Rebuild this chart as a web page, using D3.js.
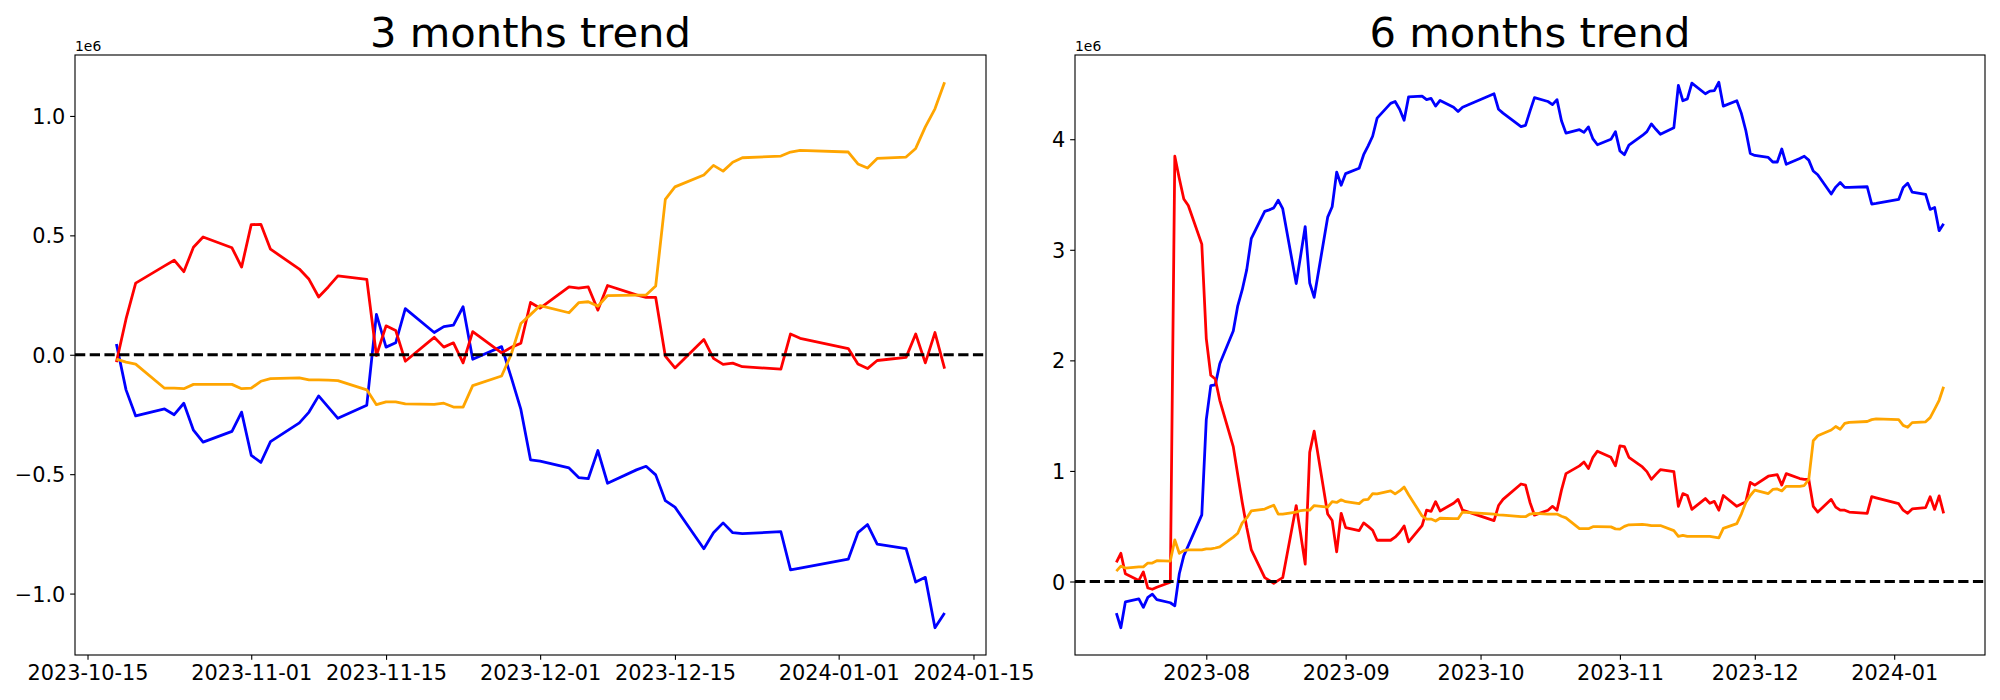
<!DOCTYPE html>
<html><head><meta charset="utf-8">
<script src="https://cdn.jsdelivr.net/npm/d3@7"></script>
<style>
body{margin:0;background:#fff}
svg{display:block}
text{font-family:"DejaVu Sans",sans-serif;fill:#000}
</style>
</head><body>
<svg id="chart" width="2000" height="700"></svg>
<script>
// ---------- DATA (values in units of 1e6) ----------
const titles = ["3 months trend", "6 months trend"];
const seriesColors = ["#0000ff", "#ff0000", "#ffa500"];

const dates3m = ["2023-10-18","2023-10-19","2023-10-20","2023-10-23","2023-10-24","2023-10-25","2023-10-26","2023-10-27","2023-10-30","2023-10-31",
"2023-11-01","2023-11-02","2023-11-03","2023-11-06","2023-11-07","2023-11-08","2023-11-09","2023-11-10","2023-11-13","2023-11-14",
"2023-11-15","2023-11-16","2023-11-17","2023-11-20","2023-11-21","2023-11-22","2023-11-23","2023-11-24","2023-11-27","2023-11-28",
"2023-11-29","2023-11-30","2023-12-01","2023-12-04","2023-12-05","2023-12-06","2023-12-07","2023-12-08","2023-12-11","2023-12-12",
"2023-12-13","2023-12-14","2023-12-15","2023-12-18","2023-12-19","2023-12-20","2023-12-21","2023-12-22","2023-12-26","2023-12-27",
"2023-12-28","2024-01-02","2024-01-03","2024-01-04","2024-01-05","2024-01-08","2024-01-09","2024-01-10","2024-01-11","2024-01-12"];

const blue3m = [0.045,-0.147,-0.256,-0.227,-0.251,-0.203,-0.316,-0.366,-0.321,-0.240,
-0.421,-0.451,-0.364,-0.285,-0.240,-0.172,-0.219,-0.266,-0.211,0.169,
0.032,0.050,0.193,0.093,0.118,0.124,0.201,-0.019,0.034,-0.095,
-0.229,-0.440,-0.445,-0.474,-0.514,-0.519,-0.401,-0.538,-0.482,-0.467,
-0.503,-0.611,-0.638,-0.812,-0.745,-0.704,-0.745,-0.749,-0.741,-0.901,
-0.893,-0.856,-0.745,-0.711,-0.793,-0.812,-0.952,-0.932,-1.143,-1.081];

const red3m = [-0.031,0.150,0.300,0.372,0.396,0.348,0.450,0.493,0.448,0.367,
0.545,0.546,0.442,0.359,0.316,0.242,0.284,0.330,0.316,-0.003,
0.121,0.102,-0.027,0.073,0.032,0.050,-0.034,0.097,0.008,0.031,
0.048,0.219,0.195,0.284,0.279,0.284,0.187,0.290,0.251,0.240,
0.240,-0.006,-0.055,0.064,-0.015,-0.040,-0.035,-0.050,-0.060,0.087,
0.069,0.026,-0.039,-0.058,-0.024,-0.011,0.087,-0.034,0.093,-0.058];

const orange3m = [-0.018,-0.031,-0.039,-0.140,-0.140,-0.142,-0.124,-0.124,-0.124,-0.142,
-0.140,-0.111,-0.100,-0.097,-0.105,-0.105,-0.106,-0.108,-0.147,-0.209,
-0.197,-0.197,-0.206,-0.208,-0.203,-0.219,-0.219,-0.129,-0.089,0.002,
0.131,0.168,0.206,0.176,0.218,0.222,0.203,0.248,0.250,0.250,
0.288,0.651,0.703,0.753,0.793,0.769,0.806,0.825,0.832,0.849,
0.856,0.849,0.799,0.782,0.822,0.828,0.864,0.954,1.030,1.141];

const dates6m = ["2023-07-12","2023-07-13","2023-07-14","2023-07-17","2023-07-18","2023-07-19","2023-07-20","2023-07-21","2023-07-24","2023-07-25","2023-07-26","2023-07-27","2023-07-28","2023-07-31",
"2023-08-01","2023-08-02","2023-08-03","2023-08-04","2023-08-07","2023-08-08","2023-08-09","2023-08-10","2023-08-11","2023-08-14","2023-08-15","2023-08-16","2023-08-17","2023-08-18","2023-08-21","2023-08-22","2023-08-23","2023-08-24","2023-08-25","2023-08-28","2023-08-29","2023-08-30","2023-08-31",
"2023-09-01","2023-09-04","2023-09-05","2023-09-06","2023-09-07","2023-09-08","2023-09-11","2023-09-12","2023-09-13","2023-09-14","2023-09-15","2023-09-18","2023-09-19","2023-09-20","2023-09-21","2023-09-22","2023-09-25","2023-09-26","2023-09-27",
"2023-10-04","2023-10-05","2023-10-06","2023-10-10","2023-10-11","2023-10-12","2023-10-13","2023-10-16","2023-10-17","2023-10-18","2023-10-19","2023-10-20","2023-10-23","2023-10-24","2023-10-25","2023-10-26","2023-10-27","2023-10-30","2023-10-31",
"2023-11-01","2023-11-02","2023-11-03","2023-11-06","2023-11-07","2023-11-08","2023-11-09","2023-11-10","2023-11-13","2023-11-14","2023-11-15","2023-11-16","2023-11-17","2023-11-20","2023-11-21","2023-11-22","2023-11-23","2023-11-24","2023-11-27","2023-11-28","2023-11-29","2023-11-30",
"2023-12-01","2023-12-04","2023-12-05","2023-12-06","2023-12-07","2023-12-08","2023-12-11","2023-12-12","2023-12-13","2023-12-14","2023-12-15","2023-12-18","2023-12-19","2023-12-20","2023-12-21","2023-12-22","2023-12-26","2023-12-27","2023-12-28",
"2024-01-02","2024-01-03","2024-01-04","2024-01-05","2024-01-08","2024-01-09","2024-01-10","2024-01-11","2024-01-12"];

const blue6m = [-0.286,-0.418,-0.185,-0.157,-0.234,-0.143,-0.115,-0.164,-0.192,-0.220,0.070,0.234,0.324,0.603,
1.464,1.771,1.778,1.970,2.266,2.493,2.639,2.821,3.100,3.347,3.361,3.379,3.448,3.372,2.695,2.950,3.210,2.700,2.570,3.295,3.389,3.703,3.584,
3.689,3.738,3.860,3.940,4.027,4.191,4.324,4.341,4.271,4.171,4.383,4.390,4.358,4.369,4.299,4.351,4.289,4.250,4.289,
4.411,4.271,4.236,4.114,4.125,4.254,4.376,4.341,4.313,4.358,4.167,4.055,4.086,4.062,4.111,4.003,3.950,3.999,4.069,
3.895,3.860,3.947,4.034,4.069,4.139,4.090,4.045,4.104,4.487,4.348,4.365,4.508,4.411,4.435,4.439,4.515,4.299,4.348,4.236,4.079,3.870,
3.853,3.835,3.794,3.794,3.912,3.773,3.825,3.846,3.811,3.713,3.679,3.504,3.567,3.609,3.564,3.564,3.570,3.414,3.420,
3.455,3.564,3.602,3.522,3.501,3.365,3.382,3.173,3.236];

const red6m = [0.174,0.255,0.070,0.010,0.087,-0.059,-0.070,-0.052,-0.007,3.846,3.644,3.459,3.400,3.051,
2.197,1.865,1.831,1.639,1.220,0.966,0.715,0.488,0.289,0.035,0.010,-0.017,0.010,0.035,0.687,0.425,0.157,1.168,1.360,0.610,0.551,0.268,0.617,
0.488,0.460,0.530,0.499,0.464,0.373,0.373,0.401,0.443,0.502,0.359,0.506,0.645,0.635,0.722,0.638,0.708,0.743,0.645,
0.551,0.687,0.743,0.882,0.872,0.715,0.600,0.645,0.680,0.645,0.826,0.976,1.046,1.081,1.022,1.123,1.179,1.123,1.046,
1.227,1.220,1.123,1.036,0.994,0.924,0.969,1.011,0.994,0.680,0.795,0.778,0.652,0.750,0.708,0.725,0.645,0.778,0.680,0.700,0.720,0.896,
0.872,0.952,0.959,0.966,0.872,0.976,0.931,0.924,0.924,0.680,0.628,0.743,0.673,0.645,0.645,0.628,0.617,0.767,0.757,
0.704,0.645,0.617,0.656,0.669,0.767,0.652,0.774,0.617];

const orange6m = [0.094,0.139,0.122,0.132,0.132,0.167,0.167,0.188,0.185,0.377,0.255,0.279,0.286,0.286,
0.296,0.296,0.303,0.314,0.401,0.436,0.530,0.575,0.638,0.655,0.673,0.690,0.610,0.610,0.628,0.642,0.645,0.645,0.687,0.673,0.722,0.715,0.739,
0.722,0.704,0.739,0.743,0.795,0.792,0.819,0.792,0.819,0.854,0.785,0.593,0.565,0.565,0.547,0.572,0.568,0.568,0.628,
0.610,0.603,0.600,0.586,0.586,0.610,0.617,0.610,0.610,0.610,0.590,0.575,0.478,0.478,0.478,0.496,0.496,0.494,0.476,
0.474,0.499,0.513,0.516,0.513,0.506,0.506,0.506,0.460,0.408,0.418,0.408,0.408,0.408,0.408,0.401,0.394,0.481,0.523,0.610,0.715,0.778,
0.826,0.795,0.833,0.837,0.819,0.861,0.861,0.868,0.924,1.273,1.318,1.370,1.402,1.377,1.430,1.440,1.447,1.464,1.471,
1.464,1.412,1.395,1.437,1.444,1.482,1.559,1.639,1.761];

const xTicks3m = ["2023-10-15","2023-11-01","2023-11-15","2023-12-01","2023-12-15","2024-01-01","2024-01-15"];
const xTicks6m = ["2023-08-01","2023-09-01","2023-10-01","2023-11-01","2023-12-01","2024-01-01"];
const yTicks3m = [-1.0, -0.5, 0.0, 0.5, 1.0];
const yTicks6m = [0, 1, 2, 3, 4];
const offsetLabel = "1e6";

// ---------- LAYOUT ----------
const svg = d3.select("#chart");
const TOP = 55, BOTTOM = 655;
const TICK = 4.86, PAD = 4.86;
const LW = 2.78;
const parse = d3.utcParse("%Y-%m-%d");

function fmtNum(dec) {
  return v => (v < 0 ? "\u2212" : "") + Math.abs(v).toFixed(dec);
}

const panels = [
  {title: titles[0], dates: dates3m, series: [blue3m, red3m, orange3m],
   xTicks: xTicks3m, xFmt: d3.utcFormat("%Y-%m-%d"), yTicks: yTicks3m, yFmt: fmtNum(1),
   left: 75, right: 986},
  {title: titles[1], dates: dates6m, series: [blue6m, red6m, orange6m],
   xTicks: xTicks6m, xFmt: d3.utcFormat("%Y-%m"), yTicks: yTicks6m, yFmt: fmtNum(0),
   left: 1075, right: 1985}
];

panels.forEach((p, pi) => {
  const t = p.dates.map(parse);
  const t0 = +t[0], t1 = +t[t.length - 1], span = t1 - t0;
  const x = d3.scaleUtc()
    .domain([new Date(t0 - 0.05 * span), new Date(t1 + 0.05 * span)])
    .range([p.left, p.right]);
  const allV = p.series.flat();
  const vmin = d3.min(allV), vmax = d3.max(allV), vr = vmax - vmin;
  const y = d3.scaleLinear()
    .domain([vmin - 0.05 * vr, vmax + 0.05 * vr])
    .range([BOTTOM, TOP]);

  const g = svg.append("g");
  const clipId = "clip" + pi;
  svg.append("clipPath").attr("id", clipId).append("rect")
    .attr("x", p.left).attr("y", TOP).attr("width", p.right - p.left).attr("height", BOTTOM - TOP);

  const line = d3.line().x((d, i) => x(t[i])).y(d => y(d));
  const plot = g.append("g").attr("clip-path", `url(#${clipId})`);
  p.series.forEach((s, si) => {
    plot.append("path").datum(s)
      .attr("d", line)
      .attr("fill", "none")
      .attr("stroke", seriesColors[si])
      .attr("stroke-width", LW)
      .attr("stroke-linejoin", "round")
      .attr("stroke-linecap", "butt");
  });
  // zero dashed line
  plot.append("line")
    .attr("x1", p.left).attr("x2", p.right)
    .attr("y1", y(0)).attr("y2", y(0))
    .attr("stroke", "#000").attr("stroke-width", LW)
    .attr("stroke-dasharray", "10.28,4.44");

  // x axis
  const xa = g.append("g").attr("transform", `translate(0,${BOTTOM})`)
    .call(d3.axisBottom(x).tickValues(p.xTicks.map(parse)).tickFormat(p.xFmt)
      .tickSize(TICK).tickPadding(PAD));
  xa.select(".domain").remove();
  xa.selectAll("line").attr("stroke-width", 1.11);
  xa.selectAll("text").attr("font-size", 20.83).attr("font-family", "DejaVu Sans");
  xa.attr("font-family", null).attr("font-size", null);

  // y axis
  const ya = g.append("g").attr("transform", `translate(${p.left},0)`)
    .call(d3.axisLeft(y).tickValues(p.yTicks).tickFormat(p.yFmt)
      .tickSize(TICK).tickPadding(PAD));
  ya.select(".domain").remove();
  ya.selectAll("line").attr("stroke-width", 1.11);
  ya.selectAll("text").attr("font-size", 20.83).attr("font-family", "DejaVu Sans").attr("dy", "0.36em");
  ya.attr("font-family", null).attr("font-size", null);

  // frame
  g.append("rect")
    .attr("x", p.left).attr("y", TOP)
    .attr("width", p.right - p.left).attr("height", BOTTOM - TOP)
    .attr("fill", "none").attr("stroke", "#000").attr("stroke-width", 1.11);

  // offset text
  g.append("text").attr("x", p.left).attr("y", 50.7)
    .attr("font-size", 13.9).text(offsetLabel);

  // title
  g.append("text").attr("x", (p.left + p.right) / 2).attr("y", 46.7)
    .attr("text-anchor", "middle").attr("font-size", 41.67).text(p.title);
});
</script>
</body></html>
